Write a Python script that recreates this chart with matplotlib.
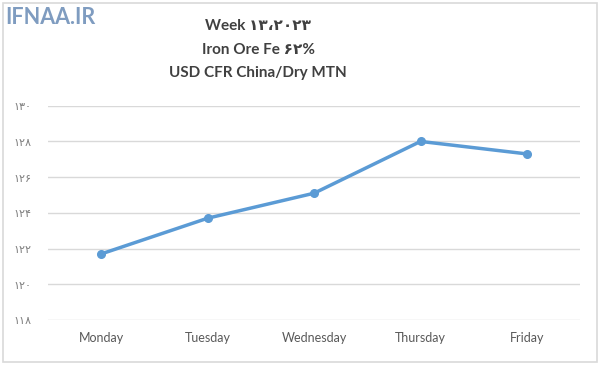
import matplotlib
matplotlib.use("Agg")
import matplotlib.pyplot as plt
from matplotlib.patches import Rectangle

# data
days = ["Monday", "Tuesday", "Wednesday", "Thursday", "Friday"]
prices = [121.7, 123.7, 125.1, 128.0, 127.3]
y_ticks = [118, 120, 122, 124, 126, 128, 130]
title_lines = ["Week ۱۳،۲۰۲۳", "Iron Ore Fe ۶۲%", "USD CFR China/Dry MTN"]

plt.rcParams["font.family"] = ["Lato", "DejaVu Sans"]

PERSIAN = str.maketrans("0123456789", "۰۱۲۳۴۵۶۷۸۹")

fig = plt.figure(figsize=(6, 3.65), dpi=100)
ax = fig.add_axes([0.08, 0.1233, 0.887, 0.5871])

x = list(range(len(days)))
ax.plot(x, prices, color="#5B9BD5", linewidth=2.5, marker="o", markersize=5.5,
        solid_capstyle="round", zorder=3)

ax.set_xlim(-0.5, len(days) - 0.5)
ax.set_ylim(118, 130)
ax.set_xticks(x)
ax.set_xticklabels(days, fontsize=9, color="#595959")
ax.set_yticks(y_ticks)
ax.set_yticklabels([str(v).translate(PERSIAN) for v in y_ticks], fontsize=8, color="#7f7f7f")
ax.tick_params(axis="both", length=0)
ax.tick_params(axis="x", pad=9)
ax.tick_params(axis="y", pad=12)
ax.grid(axis="y", color="#d9d9d9", linewidth=1)
for s in ax.spines.values():
    s.set_visible(False)

# title block
for i, line in enumerate(title_lines):
    fig.text(0.43, 1 - (26 + i * 23.5) / 365, line, ha="center", va="center",
             fontsize=11, fontweight="bold", color="#404040")

# chart border and watermark
fig.patches.append(Rectangle((0.005, 0.008), 0.99, 0.983, transform=fig.transFigure,
                             fill=False, edgecolor="#d9d9d9", linewidth=1.2))
fig.text(0.008, 1 - 17 / 365, "IFNAA.IR", ha="left", va="center", fontsize=15.5,
         fontweight="bold", color="#7f9cc0",
         bbox=dict(facecolor="white", edgecolor="none", pad=1))

fig.savefig("out.png", dpi=100)
